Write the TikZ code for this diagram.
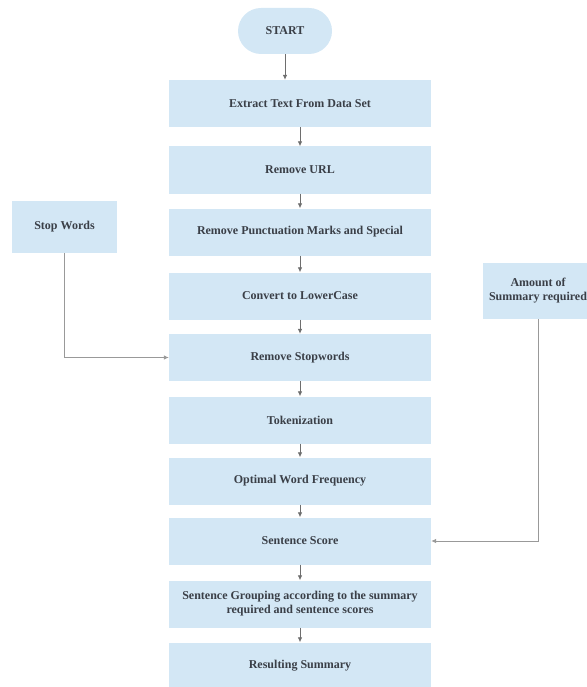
\documentclass[tikz,border=0pt]{standalone}
\usepackage{fontspec}
\setmainfont{Liberation Serif}
\usetikzlibrary{arrows.meta}
\definecolor{boxfill}{HTML}{D3E7F5}
\definecolor{txt}{HTML}{3A3F47}
\definecolor{lin}{HTML}{6E6E6E}
\tikzset{
  procbox/.style={rectangle, fill=boxfill, draw=none, minimum width=262pt, minimum height=47pt, align=center, font=\bfseries\fontsize{12}{14}\selectfont, text=txt, inner sep=2pt},
  sidebox/.style={rectangle, fill=boxfill, draw=none, align=center, font=\bfseries\fontsize{12}{14}\selectfont, text=txt, inner sep=2pt},
  pill/.style={rectangle, rounded corners=23pt, fill=boxfill, draw=none, minimum width=94pt, minimum height=46pt, font=\bfseries\fontsize{12}{14}\selectfont, text=txt},
  flow/.style={draw=lin, line width=0.8pt, -{Latex[length=5pt,width=4.5pt]}},
}
\begin{document}
\begin{tikzpicture}[x=1pt,y=-1pt]
\useasboundingbox (0,0) rectangle (586,687);
\node[pill] (start) at (285,31) {START};
\node[procbox] (extract) at (300,103.5) {Extract Text From Data Set};
\node[procbox] (url) at (300,170) {Remove URL};
\node[procbox] (punct) at (300,232) {Remove Punctuation Marks and Special};
\node[procbox] (lower) at (300,296) {Convert to LowerCase};
\node[procbox] (stop) at (300,357.5) {Remove Stopwords};
\node[procbox] (token) at (300,420) {Tokenization};
\node[procbox] (freq) at (300,481) {Optimal Word Frequency};
\node[procbox] (score) at (300,541) {Sentence Score};
\node[procbox] (group) at (300,604) {Sentence Grouping according to the summary\\required and sentence scores};
\node[procbox] (result) at (300,666) {Resulting Summary};
\node[sidebox, minimum width=105pt, minimum height=52pt] (sw) at (64.5,227) {Stop Words};
\node[sidebox, minimum width=110pt, minimum height=56pt] (amt) at (538,291) {Amount of\\Summary required};
\draw[flow] (start.south) -- (start.south |- extract.north);
\draw[flow] (extract) -- (url);
\draw[flow] (url) -- (punct);
\draw[flow] (punct) -- (lower);
\draw[flow] (lower) -- (stop);
\draw[flow] (stop) -- (token);
\draw[flow] (token) -- (freq);
\draw[flow] (freq) -- (score);
\draw[flow] (score) -- (group);
\draw[flow] (group) -- (result);
\draw[flow, draw=lin!70] (sw.south) |- (stop.west);
\draw[flow, draw=lin!70] (amt.south) |- (score.east);
\end{tikzpicture}
\end{document}
